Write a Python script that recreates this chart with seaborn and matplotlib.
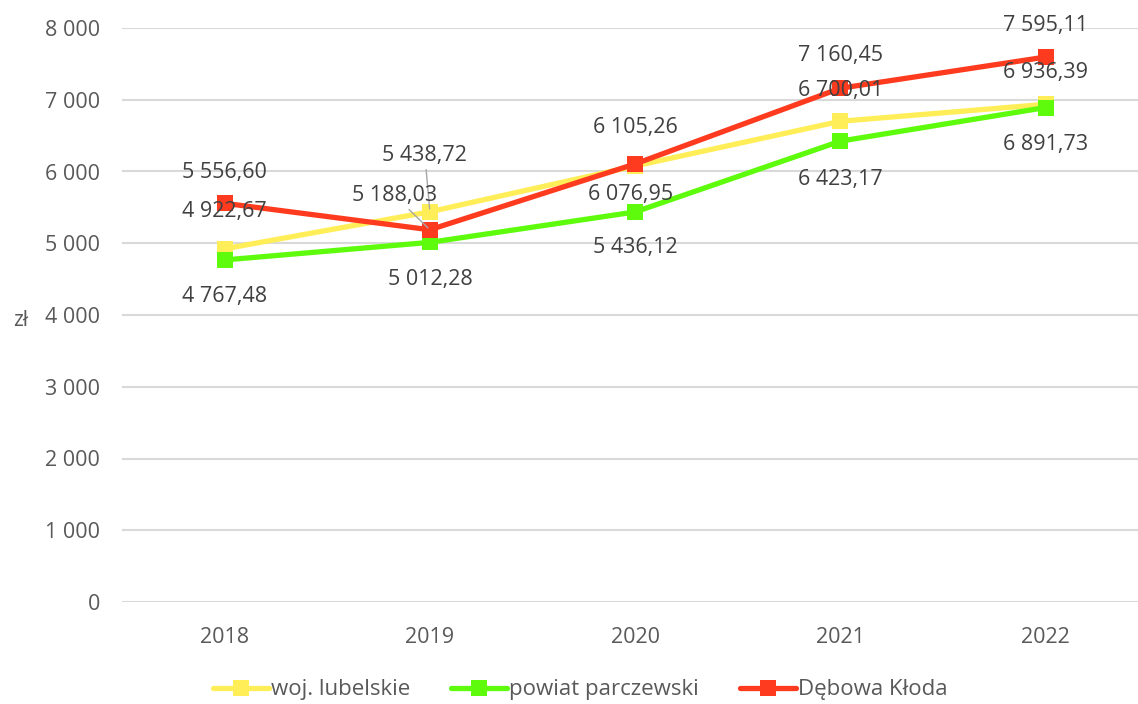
import pandas as pd
import matplotlib.pyplot as plt
import seaborn as sns
from matplotlib.ticker import FuncFormatter

# dane
lata = ['2018', '2019', '2020', '2021', '2022']
woj_lubelskie = [4922.67, 5438.72, 6076.95, 6700.01, 6936.39]
powiat_parczewski = [4767.48, 5012.28, 5436.12, 6423.17, 6891.73]
debowa_kloda = [5556.60, 5188.03, 6105.26, 7160.45, 7595.11]

serie = ['woj. lubelskie', 'powiat parczewski', 'Dębowa Kłoda']
kolory = ['#FFEE58', '#5EFC0C', '#FF3B1F']

df = pd.DataFrame({
    'rok': list(range(len(lata))) * 3,
    'wartosc': woj_lubelskie + powiat_parczewski + debowa_kloda,
    'seria': [s for s in serie for _ in lata],
})

sns.set_theme(style='white')
plt.rcParams['font.family'] = ['Open Sans', 'DejaVu Sans']
szary = '#595959'

fig = plt.figure(figsize=(11.38, 7.04), dpi=100)
ax = fig.add_axes([122 / 1138, 102 / 704, 1 - 122 / 1138, 574 / 704])

sns.lineplot(data=df, x='rok', y='wartosc', hue='seria', hue_order=serie,
             palette=kolory, marker='s', markersize=11, markeredgewidth=0,
             linewidth=3.8, ax=ax, legend=False)

ax.set_ylim(0, 8000)
ax.set_xlim(-0.5, 4.45)
ax.set_yticks(range(0, 8001, 1000))
ax.yaxis.set_major_formatter(FuncFormatter(lambda v, p: f'{int(v):,}'.replace(',', ' ')))
ax.set_xticks(range(len(lata)))
ax.set_xticklabels(lata)
ax.grid(axis='y', color='#d9d9d9', linewidth=1.5)
ax.grid(axis='x', visible=False)
for s in ax.spines.values():
    s.set_visible(False)
ax.tick_params(axis='y', length=0, pad=16, labelsize=15.5, labelcolor=szary)
ax.tick_params(axis='x', length=0, pad=18, labelsize=15.5, labelcolor=szary)
ax.set_xlabel('')
ax.set_ylabel('zł', rotation=0, fontsize=15, color=szary, va='center', ha='center')
ax.yaxis.set_label_coords(-0.1, 0.49)


def fmt(v):
    return f'{v:,.2f}'.replace(',', ' ').replace('.', ',')


# przesuniecia etykiet w pikselach
off_woj = [(0, 37), (-5, 56), (-5, -29), (0, 31), (0, 32)]
off_pow = [(0, -37), (0, -37), (0, -36), (0, -38), (0, -37)]
off_deb = [(0, 31), (-35, 34), (0, 36), (0, 33), (0, 32)]

for wartosci, offs in [(woj_lubelskie, off_woj), (powiat_parczewski, off_pow), (debowa_kloda, off_deb)]:
    for i, (v, o) in enumerate(zip(wartosci, offs)):
        strzalka = None
        if i == 1 and (o[1] > 40 or o[0] < -20):
            strzalka = dict(arrowstyle='-', color='#a6a6a6', lw=1, shrinkA=0, shrinkB=2)
        ax.annotate(fmt(v), (i, v), xytext=o, textcoords='offset pixels',
                    ha='center', va='center', fontsize=15.5, color='#404040',
                    arrowprops=strzalka, zorder=5)

uchwyty = [plt.Line2D([], [], color=c, linewidth=3.8, marker='s', markersize=11,
                      markeredgewidth=0) for c in kolory]
fig.legend(uchwyty, serie, loc='center', bbox_to_anchor=(0.51, 0.02), ncol=3,
           frameon=False, fontsize=16, labelcolor=szary, handlelength=2.5,
           handletextpad=0.1, columnspacing=1.85)

plt.savefig('out.png', dpi=100)
